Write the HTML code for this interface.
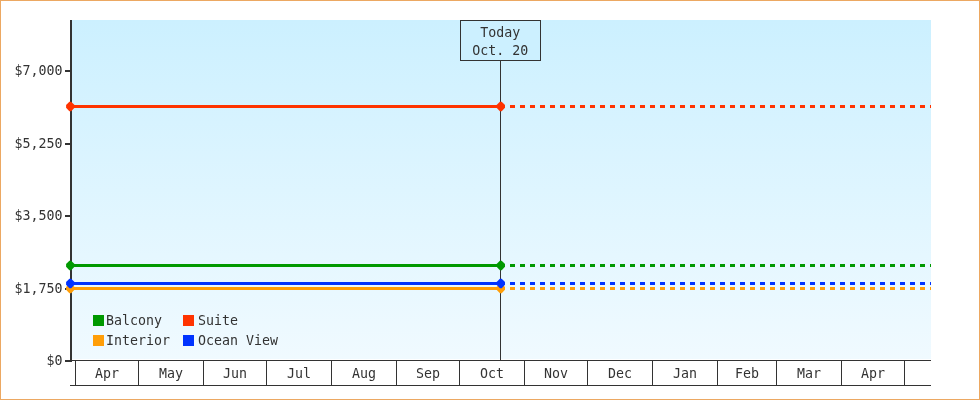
<!DOCTYPE html>
<html lang="en">
<head>
<meta charset="utf-8">
<title>Price chart</title>
<style>
html,body{margin:0;padding:0;background:#fff;}
body{width:980px;height:400px;overflow:hidden;}
#chart{position:relative;width:978px;height:398px;border:1px solid #eca862;background:#fff;}
svg{position:absolute;left:-1px;top:-1px;display:block;}
text{font-family:"DejaVu Sans Mono", "Liberation Mono", monospace;font-size:13.29px;fill:#333;}
</style>
</head>
<body>
<div id="chart">
<svg width="980" height="400" viewBox="0 0 980 400">
<defs>
<linearGradient id="bg" x1="0" y1="0" x2="0" y2="1">
<stop offset="0" stop-color="#ccf0ff"/>
<stop offset="1" stop-color="#f0faff"/>
</linearGradient>
</defs>
<g shape-rendering="crispEdges">
<rect x="72" y="20" width="859" height="339" fill="url(#bg)"/>
<rect x="70" y="20" width="2" height="342" fill="#333333"/>

<rect x="65" y="70" width="5" height="2" fill="#333333"/>
<rect x="65" y="143" width="5" height="2" fill="#333333"/>
<rect x="65" y="215" width="5" height="2" fill="#333333"/>
<rect x="65" y="288" width="5" height="2" fill="#333333"/>
<rect x="65" y="360" width="5" height="2" fill="#333333"/>
<rect x="70" y="360" width="861" height="1" fill="#333333"/>
<rect x="70" y="385" width="861" height="1" fill="#333333"/>
<rect x="75" y="360" width="1" height="26" fill="#333333"/>
<rect x="138" y="360" width="1" height="26" fill="#333333"/>
<rect x="203" y="360" width="1" height="26" fill="#333333"/>
<rect x="266" y="360" width="1" height="26" fill="#333333"/>
<rect x="331" y="360" width="1" height="26" fill="#333333"/>
<rect x="396" y="360" width="1" height="26" fill="#333333"/>
<rect x="459" y="360" width="1" height="26" fill="#333333"/>
<rect x="524" y="360" width="1" height="26" fill="#333333"/>
<rect x="587" y="360" width="1" height="26" fill="#333333"/>
<rect x="652" y="360" width="1" height="26" fill="#333333"/>
<rect x="717" y="360" width="1" height="26" fill="#333333"/>
<rect x="776" y="360" width="1" height="26" fill="#333333"/>
<rect x="841" y="360" width="1" height="26" fill="#333333"/>
<rect x="904" y="360" width="1" height="26" fill="#333333"/>
<rect x="500" y="60" width="1" height="300" fill="#333333"/>
<rect x="71" y="264" width="430" height="3" fill="#009900"/>
<rect x="510" y="264" width="5" height="3" fill="#009900"/>
<rect x="520" y="264" width="5" height="3" fill="#009900"/>
<rect x="530" y="264" width="5" height="3" fill="#009900"/>
<rect x="540" y="264" width="5" height="3" fill="#009900"/>
<rect x="550" y="264" width="5" height="3" fill="#009900"/>
<rect x="560" y="264" width="5" height="3" fill="#009900"/>
<rect x="570" y="264" width="5" height="3" fill="#009900"/>
<rect x="580" y="264" width="5" height="3" fill="#009900"/>
<rect x="590" y="264" width="5" height="3" fill="#009900"/>
<rect x="600" y="264" width="5" height="3" fill="#009900"/>
<rect x="610" y="264" width="5" height="3" fill="#009900"/>
<rect x="620" y="264" width="5" height="3" fill="#009900"/>
<rect x="630" y="264" width="5" height="3" fill="#009900"/>
<rect x="640" y="264" width="5" height="3" fill="#009900"/>
<rect x="650" y="264" width="5" height="3" fill="#009900"/>
<rect x="660" y="264" width="5" height="3" fill="#009900"/>
<rect x="670" y="264" width="5" height="3" fill="#009900"/>
<rect x="680" y="264" width="5" height="3" fill="#009900"/>
<rect x="690" y="264" width="5" height="3" fill="#009900"/>
<rect x="700" y="264" width="5" height="3" fill="#009900"/>
<rect x="710" y="264" width="5" height="3" fill="#009900"/>
<rect x="720" y="264" width="5" height="3" fill="#009900"/>
<rect x="730" y="264" width="5" height="3" fill="#009900"/>
<rect x="740" y="264" width="5" height="3" fill="#009900"/>
<rect x="750" y="264" width="5" height="3" fill="#009900"/>
<rect x="760" y="264" width="5" height="3" fill="#009900"/>
<rect x="770" y="264" width="5" height="3" fill="#009900"/>
<rect x="780" y="264" width="5" height="3" fill="#009900"/>
<rect x="790" y="264" width="5" height="3" fill="#009900"/>
<rect x="800" y="264" width="5" height="3" fill="#009900"/>
<rect x="810" y="264" width="5" height="3" fill="#009900"/>
<rect x="820" y="264" width="5" height="3" fill="#009900"/>
<rect x="830" y="264" width="5" height="3" fill="#009900"/>
<rect x="840" y="264" width="5" height="3" fill="#009900"/>
<rect x="850" y="264" width="5" height="3" fill="#009900"/>
<rect x="860" y="264" width="5" height="3" fill="#009900"/>
<rect x="870" y="264" width="5" height="3" fill="#009900"/>
<rect x="880" y="264" width="5" height="3" fill="#009900"/>
<rect x="890" y="264" width="5" height="3" fill="#009900"/>
<rect x="900" y="264" width="5" height="3" fill="#009900"/>
<rect x="910" y="264" width="5" height="3" fill="#009900"/>
<rect x="920" y="264" width="5" height="3" fill="#009900"/>
<rect x="930" y="264" width="1" height="3" fill="#009900"/>
<rect x="71" y="287" width="430" height="3" fill="#ff9e08"/>
<rect x="510" y="287" width="5" height="3" fill="#ff9e08"/>
<rect x="520" y="287" width="5" height="3" fill="#ff9e08"/>
<rect x="530" y="287" width="5" height="3" fill="#ff9e08"/>
<rect x="540" y="287" width="5" height="3" fill="#ff9e08"/>
<rect x="550" y="287" width="5" height="3" fill="#ff9e08"/>
<rect x="560" y="287" width="5" height="3" fill="#ff9e08"/>
<rect x="570" y="287" width="5" height="3" fill="#ff9e08"/>
<rect x="580" y="287" width="5" height="3" fill="#ff9e08"/>
<rect x="590" y="287" width="5" height="3" fill="#ff9e08"/>
<rect x="600" y="287" width="5" height="3" fill="#ff9e08"/>
<rect x="610" y="287" width="5" height="3" fill="#ff9e08"/>
<rect x="620" y="287" width="5" height="3" fill="#ff9e08"/>
<rect x="630" y="287" width="5" height="3" fill="#ff9e08"/>
<rect x="640" y="287" width="5" height="3" fill="#ff9e08"/>
<rect x="650" y="287" width="5" height="3" fill="#ff9e08"/>
<rect x="660" y="287" width="5" height="3" fill="#ff9e08"/>
<rect x="670" y="287" width="5" height="3" fill="#ff9e08"/>
<rect x="680" y="287" width="5" height="3" fill="#ff9e08"/>
<rect x="690" y="287" width="5" height="3" fill="#ff9e08"/>
<rect x="700" y="287" width="5" height="3" fill="#ff9e08"/>
<rect x="710" y="287" width="5" height="3" fill="#ff9e08"/>
<rect x="720" y="287" width="5" height="3" fill="#ff9e08"/>
<rect x="730" y="287" width="5" height="3" fill="#ff9e08"/>
<rect x="740" y="287" width="5" height="3" fill="#ff9e08"/>
<rect x="750" y="287" width="5" height="3" fill="#ff9e08"/>
<rect x="760" y="287" width="5" height="3" fill="#ff9e08"/>
<rect x="770" y="287" width="5" height="3" fill="#ff9e08"/>
<rect x="780" y="287" width="5" height="3" fill="#ff9e08"/>
<rect x="790" y="287" width="5" height="3" fill="#ff9e08"/>
<rect x="800" y="287" width="5" height="3" fill="#ff9e08"/>
<rect x="810" y="287" width="5" height="3" fill="#ff9e08"/>
<rect x="820" y="287" width="5" height="3" fill="#ff9e08"/>
<rect x="830" y="287" width="5" height="3" fill="#ff9e08"/>
<rect x="840" y="287" width="5" height="3" fill="#ff9e08"/>
<rect x="850" y="287" width="5" height="3" fill="#ff9e08"/>
<rect x="860" y="287" width="5" height="3" fill="#ff9e08"/>
<rect x="870" y="287" width="5" height="3" fill="#ff9e08"/>
<rect x="880" y="287" width="5" height="3" fill="#ff9e08"/>
<rect x="890" y="287" width="5" height="3" fill="#ff9e08"/>
<rect x="900" y="287" width="5" height="3" fill="#ff9e08"/>
<rect x="910" y="287" width="5" height="3" fill="#ff9e08"/>
<rect x="920" y="287" width="5" height="3" fill="#ff9e08"/>
<rect x="930" y="287" width="1" height="3" fill="#ff9e08"/>
<rect x="71" y="282" width="430" height="3" fill="#0033ff"/>
<rect x="510" y="282" width="5" height="3" fill="#0033ff"/>
<rect x="520" y="282" width="5" height="3" fill="#0033ff"/>
<rect x="530" y="282" width="5" height="3" fill="#0033ff"/>
<rect x="540" y="282" width="5" height="3" fill="#0033ff"/>
<rect x="550" y="282" width="5" height="3" fill="#0033ff"/>
<rect x="560" y="282" width="5" height="3" fill="#0033ff"/>
<rect x="570" y="282" width="5" height="3" fill="#0033ff"/>
<rect x="580" y="282" width="5" height="3" fill="#0033ff"/>
<rect x="590" y="282" width="5" height="3" fill="#0033ff"/>
<rect x="600" y="282" width="5" height="3" fill="#0033ff"/>
<rect x="610" y="282" width="5" height="3" fill="#0033ff"/>
<rect x="620" y="282" width="5" height="3" fill="#0033ff"/>
<rect x="630" y="282" width="5" height="3" fill="#0033ff"/>
<rect x="640" y="282" width="5" height="3" fill="#0033ff"/>
<rect x="650" y="282" width="5" height="3" fill="#0033ff"/>
<rect x="660" y="282" width="5" height="3" fill="#0033ff"/>
<rect x="670" y="282" width="5" height="3" fill="#0033ff"/>
<rect x="680" y="282" width="5" height="3" fill="#0033ff"/>
<rect x="690" y="282" width="5" height="3" fill="#0033ff"/>
<rect x="700" y="282" width="5" height="3" fill="#0033ff"/>
<rect x="710" y="282" width="5" height="3" fill="#0033ff"/>
<rect x="720" y="282" width="5" height="3" fill="#0033ff"/>
<rect x="730" y="282" width="5" height="3" fill="#0033ff"/>
<rect x="740" y="282" width="5" height="3" fill="#0033ff"/>
<rect x="750" y="282" width="5" height="3" fill="#0033ff"/>
<rect x="760" y="282" width="5" height="3" fill="#0033ff"/>
<rect x="770" y="282" width="5" height="3" fill="#0033ff"/>
<rect x="780" y="282" width="5" height="3" fill="#0033ff"/>
<rect x="790" y="282" width="5" height="3" fill="#0033ff"/>
<rect x="800" y="282" width="5" height="3" fill="#0033ff"/>
<rect x="810" y="282" width="5" height="3" fill="#0033ff"/>
<rect x="820" y="282" width="5" height="3" fill="#0033ff"/>
<rect x="830" y="282" width="5" height="3" fill="#0033ff"/>
<rect x="840" y="282" width="5" height="3" fill="#0033ff"/>
<rect x="850" y="282" width="5" height="3" fill="#0033ff"/>
<rect x="860" y="282" width="5" height="3" fill="#0033ff"/>
<rect x="870" y="282" width="5" height="3" fill="#0033ff"/>
<rect x="880" y="282" width="5" height="3" fill="#0033ff"/>
<rect x="890" y="282" width="5" height="3" fill="#0033ff"/>
<rect x="900" y="282" width="5" height="3" fill="#0033ff"/>
<rect x="910" y="282" width="5" height="3" fill="#0033ff"/>
<rect x="920" y="282" width="5" height="3" fill="#0033ff"/>
<rect x="930" y="282" width="1" height="3" fill="#0033ff"/>
<rect x="71" y="105" width="430" height="3" fill="#ff3300"/>
<rect x="510" y="105" width="5" height="3" fill="#ff3300"/>
<rect x="520" y="105" width="5" height="3" fill="#ff3300"/>
<rect x="530" y="105" width="5" height="3" fill="#ff3300"/>
<rect x="540" y="105" width="5" height="3" fill="#ff3300"/>
<rect x="550" y="105" width="5" height="3" fill="#ff3300"/>
<rect x="560" y="105" width="5" height="3" fill="#ff3300"/>
<rect x="570" y="105" width="5" height="3" fill="#ff3300"/>
<rect x="580" y="105" width="5" height="3" fill="#ff3300"/>
<rect x="590" y="105" width="5" height="3" fill="#ff3300"/>
<rect x="600" y="105" width="5" height="3" fill="#ff3300"/>
<rect x="610" y="105" width="5" height="3" fill="#ff3300"/>
<rect x="620" y="105" width="5" height="3" fill="#ff3300"/>
<rect x="630" y="105" width="5" height="3" fill="#ff3300"/>
<rect x="640" y="105" width="5" height="3" fill="#ff3300"/>
<rect x="650" y="105" width="5" height="3" fill="#ff3300"/>
<rect x="660" y="105" width="5" height="3" fill="#ff3300"/>
<rect x="670" y="105" width="5" height="3" fill="#ff3300"/>
<rect x="680" y="105" width="5" height="3" fill="#ff3300"/>
<rect x="690" y="105" width="5" height="3" fill="#ff3300"/>
<rect x="700" y="105" width="5" height="3" fill="#ff3300"/>
<rect x="710" y="105" width="5" height="3" fill="#ff3300"/>
<rect x="720" y="105" width="5" height="3" fill="#ff3300"/>
<rect x="730" y="105" width="5" height="3" fill="#ff3300"/>
<rect x="740" y="105" width="5" height="3" fill="#ff3300"/>
<rect x="750" y="105" width="5" height="3" fill="#ff3300"/>
<rect x="760" y="105" width="5" height="3" fill="#ff3300"/>
<rect x="770" y="105" width="5" height="3" fill="#ff3300"/>
<rect x="780" y="105" width="5" height="3" fill="#ff3300"/>
<rect x="790" y="105" width="5" height="3" fill="#ff3300"/>
<rect x="800" y="105" width="5" height="3" fill="#ff3300"/>
<rect x="810" y="105" width="5" height="3" fill="#ff3300"/>
<rect x="820" y="105" width="5" height="3" fill="#ff3300"/>
<rect x="830" y="105" width="5" height="3" fill="#ff3300"/>
<rect x="840" y="105" width="5" height="3" fill="#ff3300"/>
<rect x="850" y="105" width="5" height="3" fill="#ff3300"/>
<rect x="860" y="105" width="5" height="3" fill="#ff3300"/>
<rect x="870" y="105" width="5" height="3" fill="#ff3300"/>
<rect x="880" y="105" width="5" height="3" fill="#ff3300"/>
<rect x="890" y="105" width="5" height="3" fill="#ff3300"/>
<rect x="900" y="105" width="5" height="3" fill="#ff3300"/>
<rect x="910" y="105" width="5" height="3" fill="#ff3300"/>
<rect x="920" y="105" width="5" height="3" fill="#ff3300"/>
<rect x="930" y="105" width="1" height="3" fill="#ff3300"/>
<rect x="460.5" y="20.5" width="80" height="40" fill="#ccf0ff" stroke="#333333" stroke-width="1"/>
<rect x="93" y="315" width="11" height="11" fill="#009900"/>
<rect x="93" y="335" width="11" height="11" fill="#ff9e08"/>
<rect x="183" y="315" width="11" height="11" fill="#ff3300"/>
<rect x="183" y="335" width="11" height="11" fill="#0033ff"/>
</g>
<polygon points="69.40,260.65 71.20,260.65 74.50,264.05 74.50,266.85 71.20,270.25 69.40,270.25 66.10,266.85 66.10,264.05" fill="#009900"/>
<polygon points="499.90,260.65 501.70,260.65 505.00,264.05 505.00,266.85 501.70,270.25 499.90,270.25 496.60,266.85 496.60,264.05" fill="#009900"/>
<polygon points="69.40,283.65 71.20,283.65 74.50,287.05 74.50,289.85 71.20,293.25 69.40,293.25 66.10,289.85 66.10,287.05" fill="#ff9e08"/>
<polygon points="499.90,283.65 501.70,283.65 505.00,287.05 505.00,289.85 501.70,293.25 499.90,293.25 496.60,289.85 496.60,287.05" fill="#ff9e08"/>
<polygon points="69.40,278.65 71.20,278.65 74.50,282.05 74.50,284.85 71.20,288.25 69.40,288.25 66.10,284.85 66.10,282.05" fill="#0033ff"/>
<polygon points="499.90,278.65 501.70,278.65 505.00,282.05 505.00,284.85 501.70,288.25 499.90,288.25 496.60,284.85 496.60,282.05" fill="#0033ff"/>
<polygon points="69.40,101.65 71.20,101.65 74.50,105.05 74.50,107.85 71.20,111.25 69.40,111.25 66.10,107.85 66.10,105.05" fill="#ff3300"/>
<polygon points="499.90,101.65 501.70,101.65 505.00,105.05 505.00,107.85 501.70,111.25 499.90,111.25 496.60,107.85 496.60,105.05" fill="#ff3300"/>
<text x="62.5" y="75" text-anchor="end">$7,000</text>
<text x="62.5" y="148" text-anchor="end">$5,250</text>
<text x="62.5" y="220" text-anchor="end">$3,500</text>
<text x="62.5" y="293" text-anchor="end">$1,750</text>
<text x="62.5" y="365" text-anchor="end">$0</text>
<text x="107.0" y="378" text-anchor="middle">Apr</text>
<text x="171.0" y="378" text-anchor="middle">May</text>
<text x="235.0" y="378" text-anchor="middle">Jun</text>
<text x="299.0" y="378" text-anchor="middle">Jul</text>
<text x="364.0" y="378" text-anchor="middle">Aug</text>
<text x="428.0" y="378" text-anchor="middle">Sep</text>
<text x="492.0" y="378" text-anchor="middle">Oct</text>
<text x="556.0" y="378" text-anchor="middle">Nov</text>
<text x="620.0" y="378" text-anchor="middle">Dec</text>
<text x="685.0" y="378" text-anchor="middle">Jan</text>
<text x="747.0" y="378" text-anchor="middle">Feb</text>
<text x="809.0" y="378" text-anchor="middle">Mar</text>
<text x="873.0" y="378" text-anchor="middle">Apr</text>
<text x="500.2" y="37" text-anchor="middle">Today</text>
<text x="500.2" y="55" text-anchor="middle">Oct. 20</text>
<text x="106" y="325">Balcony</text>
<text x="106" y="345">Interior</text>
<text x="198" y="325">Suite</text>
<text x="198" y="345">Ocean View</text>
</svg>
</div>
</body>
</html>
